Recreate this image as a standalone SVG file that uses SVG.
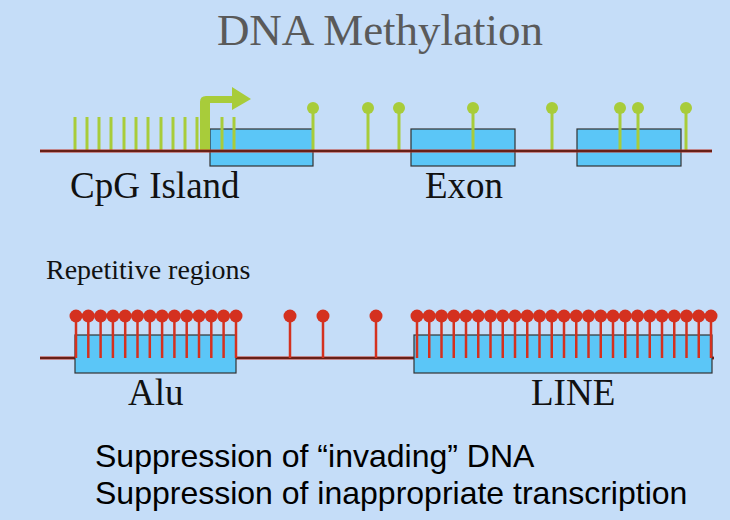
<svg xmlns="http://www.w3.org/2000/svg" width="730" height="520" viewBox="0 0 730 520">
<style>
.serif{font-family:"Liberation Serif",serif;fill:#111}
.box{fill:#5bc6f7;stroke:#333;stroke-width:1.2}
.dna{stroke:#c0301e;stroke-width:3}
.dnac{stroke:#111;stroke-width:1}
.g{stroke:#a8cc3a;stroke-width:3}
.r{stroke:#d4311f;stroke-width:2.5}
</style>
<defs>
<g id="gl"><line class="g" x1="0" y1="108" x2="0" y2="151"/><circle cx="0" cy="108" r="6" fill="#a8cc3a"/></g>
<g id="rl"><line class="r" x1="0" y1="316" x2="0" y2="358"/><circle cx="0" cy="316" r="6.5" fill="#d4311f"/></g>
</defs>
<rect width="730" height="520" fill="#c5ddf8"/>
<text x="380" y="45" text-anchor="middle" font-size="45" style="font-family:'Liberation Serif',serif;fill:#5a5a5a">DNA Methylation</text>
<g id="cpg-island">
<rect class="box" x="210" y="129" width="103" height="37"/>
<g class="g">
<line x1="75" y1="117" x2="75" y2="151"/><line x1="87" y1="117" x2="87" y2="151"/><line x1="99" y1="117" x2="99" y2="151"/><line x1="111" y1="117" x2="111" y2="151"/><line x1="124" y1="117" x2="124" y2="151"/><line x1="136" y1="117" x2="136" y2="151"/><line x1="148" y1="117" x2="148" y2="151"/><line x1="161" y1="117" x2="161" y2="151"/><line x1="173" y1="117" x2="173" y2="151"/><line x1="185" y1="117" x2="185" y2="151"/><line x1="197" y1="117" x2="197" y2="151"/><line x1="222" y1="117" x2="222" y2="151"/><line x1="234" y1="117" x2="234" y2="151"/>
</g>
<path d="M200 151 V102 Q200 96 206 96 H232 V87 L251 99 L232 110 V103 H210 V151 Z" fill="#a8cc3a"/>
<use href="#gl" x="313"/>
<text class="serif" x="70" y="198" font-size="37">CpG Island</text>
</g>
<g id="exon">
<rect class="box" x="411" y="129" width="104" height="37"/>
<use href="#gl" x="368"/><use href="#gl" x="399"/><use href="#gl" x="473"/><use href="#gl" x="552"/>
<text class="serif" x="425" y="198" font-size="37">Exon</text>
</g>
<g id="exon2">
<rect class="box" x="577" y="129" width="104" height="37"/>
<use href="#gl" x="620"/><use href="#gl" x="638"/><use href="#gl" x="686"/>
</g>
<g id="connectors">
<line class="dna" x1="40" y1="151" x2="712" y2="151"/>
<line class="dnac" x1="40" y1="151" x2="712" y2="151"/>
<line class="dna" x1="40" y1="358" x2="714" y2="358"/>
<line class="dnac" x1="40" y1="358" x2="714" y2="358"/>
</g>
<text class="serif" x="46" y="279" font-size="28">Repetitive regions</text>
<g id="alu">
<rect class="box" x="75" y="335" width="161" height="38"/>
<use href="#rl" x="76"/><use href="#rl" x="88.3"/><use href="#rl" x="100.6"/><use href="#rl" x="112.9"/><use href="#rl" x="125.2"/><use href="#rl" x="137.5"/><use href="#rl" x="149.8"/><use href="#rl" x="162.1"/><use href="#rl" x="174.4"/><use href="#rl" x="186.7"/><use href="#rl" x="199"/><use href="#rl" x="211.3"/><use href="#rl" x="223.6"/><use href="#rl" x="236"/>
<text class="serif" x="128" y="405" font-size="37">Alu</text>
</g>
<g id="singles"><use href="#rl" x="290"/><use href="#rl" x="323"/><use href="#rl" x="376"/></g>
<g id="line">
<rect class="box" x="414" y="335" width="298" height="38"/>
<use href="#rl" x="417"/><use href="#rl" x="429.25"/><use href="#rl" x="441.5"/><use href="#rl" x="453.75"/><use href="#rl" x="466"/><use href="#rl" x="478.25"/><use href="#rl" x="490.5"/><use href="#rl" x="502.75"/><use href="#rl" x="515"/><use href="#rl" x="527.25"/><use href="#rl" x="539.5"/><use href="#rl" x="551.75"/><use href="#rl" x="564"/><use href="#rl" x="576.25"/><use href="#rl" x="588.5"/><use href="#rl" x="600.75"/><use href="#rl" x="613"/><use href="#rl" x="625.25"/><use href="#rl" x="637.5"/><use href="#rl" x="649.75"/><use href="#rl" x="662"/><use href="#rl" x="674.25"/><use href="#rl" x="686.5"/><use href="#rl" x="698.75"/><use href="#rl" x="711"/>
<text class="serif" x="531" y="405" font-size="37">LINE</text>
</g>
<text x="95" y="467" font-size="32" style="font-family:'Liberation Sans',sans-serif;fill:#000">Suppression of “invading” DNA</text>
<text x="95" y="504" font-size="32" style="font-family:'Liberation Sans',sans-serif;fill:#000">Suppression of inappropriate transcription</text>
</svg>
